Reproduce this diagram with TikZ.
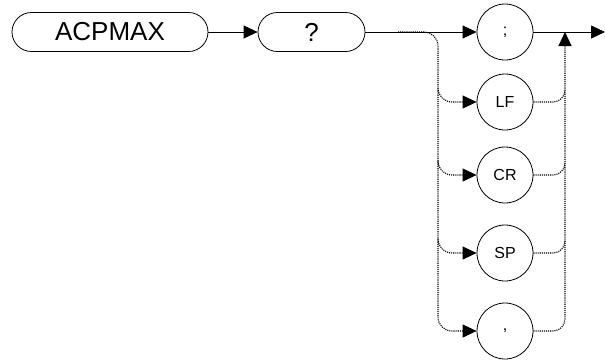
\documentclass[tikz,border=0pt]{standalone}
\usepackage{fontspec}
\setmainfont{Liberation Sans}
\usetikzlibrary{arrows.meta,positioning}
\tikzset{
  keyword/.style={draw, rounded corners=19.5pt, minimum height=39pt, inner sep=0pt, font=\fontsize{26}{26}\selectfont},
  charnode/.style={circle, draw, minimum size=56pt, inner sep=0pt, font=\fontsize{16}{16}\selectfont},
  arr/.style={-{Triangle[length=14pt,width=13pt]}},
  dots/.style={line width=1.1pt, dash pattern=on 1.1pt off 1pt}
}
\begin{document}
\begin{tikzpicture}[x=1pt, y=-1pt, line width=0.8pt]
  \useasboundingbox (0,0) rectangle (605,360);
  \node[keyword, minimum width=196pt] (acpmax) at (110,32) {ACPMAX};
  \node[keyword, minimum width=107pt] (query) at (311.5,32) {?};
  \node[charnode] (semi) at (505,32) {;};
  \node[charnode] (lf) at (505,102) {LF};
  \node[charnode] (cr) at (505,175) {CR};
  \node[charnode] (sp) at (505,253) {SP};
  \node[charnode] (comma) at (505,331) {,};
  \coordinate (split) at (398,32);
  \coordinate (lbus) at (438,32);
  \coordinate (rbus) at (565,32);
  \coordinate (out) at (605,32);
  \draw[arr] (acpmax) -- (query);
  \draw[arr] (query) -- (semi);
  \draw[arr] (semi) -- (out);
  \draw[dots, arr, rounded corners=14pt] (split) -| (lbus |- comma.west) -- (comma.west);
  \draw[dots, arr, rounded corners=12pt] (comma.east) -| (rbus);
  \foreach \n in {lf,cr,sp}{
    \draw[dots, arr, rounded corners=14pt] ([yshift=14pt]lbus |- \n.west) -- (lbus |- \n.west) -- (\n.west);
    \draw[dots, rounded corners=12pt] (\n.east) -- (rbus |- \n.east) -- ([yshift=12pt]rbus |- \n.east);
  }
\end{tikzpicture}
\end{document}
